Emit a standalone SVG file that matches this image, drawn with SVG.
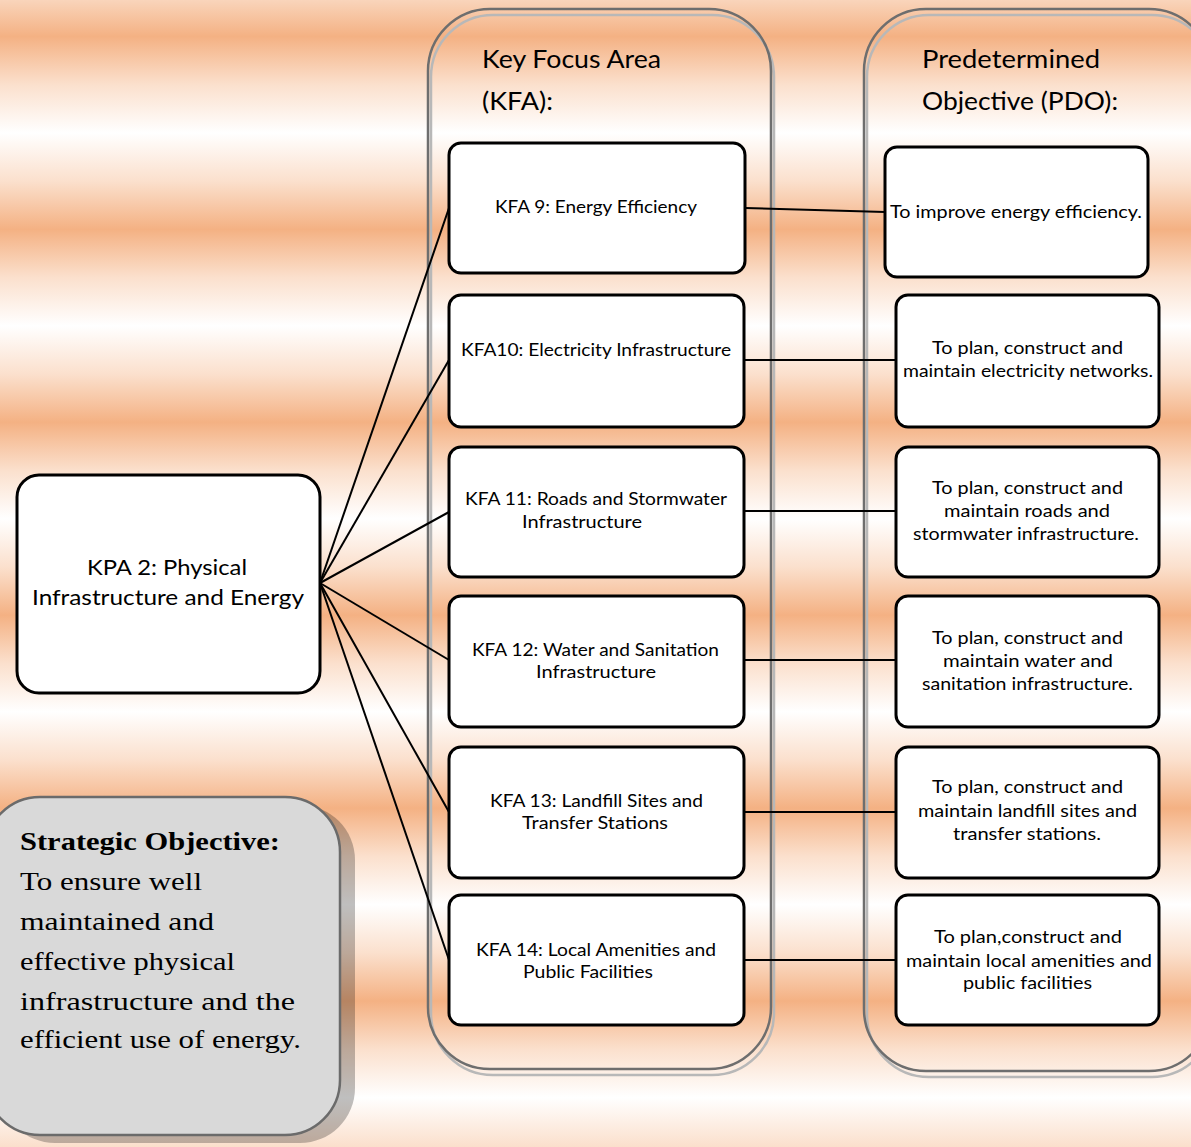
<svg xmlns="http://www.w3.org/2000/svg" width="1191" height="1147" viewBox="0 0 1191 1147">
<defs>
<linearGradient id="bg" gradientUnits="userSpaceOnUse" x1="0" y1="-156" x2="0" y2="1291">
<stop offset="0" stop-color="#ffffff"/>
</linearGradient>
<linearGradient id="stripes" gradientUnits="userSpaceOnUse" x1="0" y1="-60" x2="0" y2="1194" spreadMethod="pad">
<stop offset="0.0000" stop-color="#ffffff"/>
<stop offset="0.0385" stop-color="#fbe0cd"/>
<stop offset="0.0769" stop-color="#f4b183"/>
<stop offset="0.1154" stop-color="#fbe0cd"/>
<stop offset="0.1538" stop-color="#ffffff"/>
<stop offset="0.1923" stop-color="#fbe0cd"/>
<stop offset="0.2308" stop-color="#f4b183"/>
<stop offset="0.2692" stop-color="#fbe0cd"/>
<stop offset="0.3077" stop-color="#ffffff"/>
<stop offset="0.3462" stop-color="#fbe0cd"/>
<stop offset="0.3846" stop-color="#f4b183"/>
<stop offset="0.4231" stop-color="#fbe0cd"/>
<stop offset="0.4615" stop-color="#ffffff"/>
<stop offset="0.5000" stop-color="#fbe0cd"/>
<stop offset="0.5385" stop-color="#f4b183"/>
<stop offset="0.5769" stop-color="#fbe0cd"/>
<stop offset="0.6154" stop-color="#ffffff"/>
<stop offset="0.6538" stop-color="#fbe0cd"/>
<stop offset="0.6923" stop-color="#f4b183"/>
<stop offset="0.7308" stop-color="#fbe0cd"/>
<stop offset="0.7692" stop-color="#ffffff"/>
<stop offset="0.8077" stop-color="#fbe0cd"/>
<stop offset="0.8462" stop-color="#f4b183"/>
<stop offset="0.8846" stop-color="#fbe0cd"/>
<stop offset="0.9231" stop-color="#ffffff"/>
<stop offset="0.9615" stop-color="#fbe0cd"/>
<stop offset="1.0000" stop-color="#f4b183"/>
</linearGradient>
</defs>
<style>
.cont{fill:none;stroke:#6e6e6e;stroke-width:2.5}
.contsh{fill:none;stroke:#b8b8b8;stroke-width:2.5}
.box{fill:#ffffff;stroke:#000000;stroke-width:3}
.conn{stroke:#000000;stroke-width:2;fill:none}
.head{font-family:Lato,"Liberation Sans",sans-serif;font-size:25px;fill:#000}
.kpa{font-family:Lato,"Liberation Sans",sans-serif;font-size:22px;fill:#000}
.lbl{font-family:Lato,"Liberation Sans",sans-serif;font-size:17px;fill:#000}
.ser{font-family:"Liberation Serif","DejaVu Serif",serif;font-size:26px;fill:#000}
</style>
<rect x="0" y="0" width="1191" height="1147" fill="url(#stripes)"/>

<g id="kfa-container">
<rect class="contsh" x="431" y="15" width="343" height="1060" rx="62"/>
<rect class="cont" x="428" y="9" width="343" height="1060" rx="62"/>
<text class="head" x="482" y="68" textLength="179" lengthAdjust="spacingAndGlyphs">Key Focus Area</text>
<text class="head" x="482" y="110" textLength="71" lengthAdjust="spacingAndGlyphs">(KFA):</text>
</g>
<g id="pdo-container">
<rect class="contsh" x="867" y="15" width="347" height="1062" rx="62"/>
<rect class="cont" x="864" y="9" width="347" height="1062" rx="62"/>
<text class="head" x="922" y="68" textLength="178" lengthAdjust="spacingAndGlyphs">Predetermined</text>
<text class="head" x="922" y="110" textLength="196" lengthAdjust="spacingAndGlyphs">Objective (PDO):</text>
</g>

<g id="connectors">
<line class="conn" x1="320" y1="583" x2="449" y2="208"/>
<line class="conn" x1="320" y1="583" x2="449" y2="360"/>
<line class="conn" x1="320" y1="583" x2="449" y2="512"/>
<line class="conn" x1="320" y1="583" x2="449" y2="660"/>
<line class="conn" x1="320" y1="583" x2="449" y2="812"/>
<line class="conn" x1="320" y1="583" x2="449" y2="960"/>
<line class="conn" x1="745" y1="208" x2="885" y2="212"/>
<line class="conn" x1="744" y1="360" x2="896" y2="360"/>
<line class="conn" x1="744" y1="511" x2="896" y2="511"/>
<line class="conn" x1="744" y1="660" x2="896" y2="660"/>
<line class="conn" x1="744" y1="812" x2="896" y2="812"/>
<line class="conn" x1="744" y1="960" x2="896" y2="960"/>
</g>

<g id="kpa2">
<rect class="box" x="17" y="475" width="303" height="218" rx="22"/>
<text class="kpa" x="87" y="575" textLength="160" lengthAdjust="spacingAndGlyphs">KPA 2: Physical</text>
<text class="kpa" x="32" y="605" textLength="272" lengthAdjust="spacingAndGlyphs">Infrastructure and Energy</text>
</g>

<g id="kfa9">
<rect class="box" x="449" y="143" width="296" height="130" rx="12"/>
<text class="lbl" x="495" y="213" textLength="202" lengthAdjust="spacingAndGlyphs">KFA 9: Energy Efficiency</text>
</g>
<g id="kfa10">
<rect class="box" x="449" y="295" width="295" height="132" rx="12"/>
<text class="lbl" x="461" y="356" textLength="270" lengthAdjust="spacingAndGlyphs">KFA10: Electricity Infrastructure</text>
</g>
<g id="kfa11">
<rect class="box" x="449" y="447" width="295" height="130" rx="12"/>
<text class="lbl" x="465" y="505" textLength="262" lengthAdjust="spacingAndGlyphs">KFA 11: Roads and Stormwater</text>
<text class="lbl" x="522" y="528" textLength="120" lengthAdjust="spacingAndGlyphs">Infrastructure</text>
</g>
<g id="kfa12">
<rect class="box" x="449" y="596" width="295" height="131" rx="12"/>
<text class="lbl" x="472" y="656" textLength="247" lengthAdjust="spacingAndGlyphs">KFA 12: Water and Sanitation</text>
<text class="lbl" x="536" y="678" textLength="120" lengthAdjust="spacingAndGlyphs">Infrastructure</text>
</g>
<g id="kfa13">
<rect class="box" x="449" y="747" width="295" height="131" rx="12"/>
<text class="lbl" x="490" y="807" textLength="213" lengthAdjust="spacingAndGlyphs">KFA 13: Landfill Sites and</text>
<text class="lbl" x="522" y="829" textLength="146" lengthAdjust="spacingAndGlyphs">Transfer Stations</text>
</g>
<g id="kfa14">
<rect class="box" x="449" y="895" width="295" height="130" rx="12"/>
<text class="lbl" x="476" y="956" textLength="240" lengthAdjust="spacingAndGlyphs">KFA 14: Local Amenities and</text>
<text class="lbl" x="523" y="978" textLength="130" lengthAdjust="spacingAndGlyphs">Public Facilities</text>
</g>

<g id="pdo1">
<rect class="box" x="885" y="147" width="263" height="130" rx="12"/>
<text class="lbl" x="890" y="218" textLength="252" lengthAdjust="spacingAndGlyphs">To improve energy efficiency.</text>
</g>
<g id="pdo2">
<rect class="box" x="896" y="295" width="263" height="132" rx="12"/>
<text class="lbl" x="932" y="354" textLength="191" lengthAdjust="spacingAndGlyphs">To plan, construct and</text>
<text class="lbl" x="903" y="377" textLength="250" lengthAdjust="spacingAndGlyphs">maintain electricity networks.</text>
</g>
<g id="pdo3">
<rect class="box" x="896" y="447" width="263" height="130" rx="12"/>
<text class="lbl" x="932" y="494" textLength="191" lengthAdjust="spacingAndGlyphs">To plan, construct and</text>
<text class="lbl" x="944" y="517" textLength="166" lengthAdjust="spacingAndGlyphs">maintain roads and</text>
<text class="lbl" x="913" y="540" textLength="226" lengthAdjust="spacingAndGlyphs">stormwater infrastructure.</text>
</g>
<g id="pdo4">
<rect class="box" x="896" y="596" width="263" height="131" rx="12"/>
<text class="lbl" x="932" y="644" textLength="191" lengthAdjust="spacingAndGlyphs">To plan, construct and</text>
<text class="lbl" x="943" y="667" textLength="170" lengthAdjust="spacingAndGlyphs">maintain water and</text>
<text class="lbl" x="922" y="690" textLength="211" lengthAdjust="spacingAndGlyphs">sanitation infrastructure.</text>
</g>
<g id="pdo5">
<rect class="box" x="896" y="747" width="263" height="131" rx="12"/>
<text class="lbl" x="932" y="793" textLength="191" lengthAdjust="spacingAndGlyphs">To plan, construct and</text>
<text class="lbl" x="918" y="817" textLength="219" lengthAdjust="spacingAndGlyphs">maintain landfill sites and</text>
<text class="lbl" x="953" y="840" textLength="148" lengthAdjust="spacingAndGlyphs">transfer stations.</text>
</g>
<g id="pdo6">
<rect class="box" x="896" y="895" width="263" height="130" rx="12"/>
<text class="lbl" x="934" y="943" textLength="188" lengthAdjust="spacingAndGlyphs">To plan,construct and</text>
<text class="lbl" x="906" y="967" textLength="246" lengthAdjust="spacingAndGlyphs">maintain local amenities and</text>
<text class="lbl" x="963" y="989" textLength="129" lengthAdjust="spacingAndGlyphs">public facilities</text>
</g>

<g id="strategic-objective">
<rect x="0" y="805" width="355" height="338" rx="55" fill="#000000" fill-opacity="0.25"/>
<rect x="-15" y="797" width="355" height="338" rx="55" fill="#d9d9d9" stroke="#6b6b6b" stroke-width="2.5"/>
<text class="ser" x="20" y="850" font-weight="bold" textLength="260" lengthAdjust="spacingAndGlyphs">Strategic Objective:</text>
<text class="ser" x="20" y="890" textLength="182" lengthAdjust="spacingAndGlyphs">To ensure well</text>
<text class="ser" x="20" y="930" textLength="194" lengthAdjust="spacingAndGlyphs">maintained and</text>
<text class="ser" x="20" y="970" textLength="215" lengthAdjust="spacingAndGlyphs">effective physical</text>
<text class="ser" x="20" y="1010" textLength="275" lengthAdjust="spacingAndGlyphs">infrastructure and the</text>
<text class="ser" x="20" y="1048" textLength="281" lengthAdjust="spacingAndGlyphs">efficient use of energy.</text>
</g>
</svg>
